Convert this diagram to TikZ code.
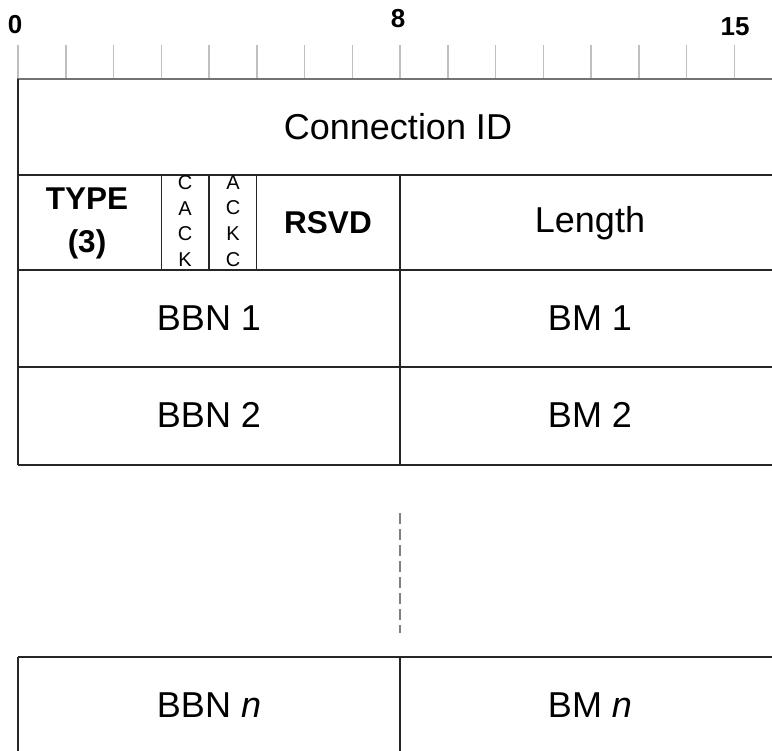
\documentclass[tikz,border=0pt]{standalone}
\usepackage{fontspec}
\setmainfont{Liberation Sans}

\begin{document}
\begin{tikzpicture}[x=1pt, y=-1pt,
    field/.style={font=\fontsize{36}{36}\selectfont},
    flagtext/.style={font=\bfseries\fontsize{31.5}{43}\selectfont, align=center},
    bitlabel/.style={font=\bfseries\fontsize{26}{26}\selectfont},
    narrow/.style={font=\fontsize{20}{25.7}\selectfont, align=center},
    cell/.style={black!85, line width=1.4},
    tick/.style={black!25, line width=1.5}]
    % Define bit width and left edge
    \def\w{47.75}
    \def\xo{18}

    \clip (0,0) rectangle (772,751);

    % Ruler
    \foreach \i in {0,...,16}
        \draw[tick] (\xo+\i*\w,45) -- (\xo+\i*\w,79);
    \draw[black!55, line width=1.5] (17,79) -- (790,79);
    \node[bitlabel] (bit0) at (15,25) {0};
    \node[bitlabel] (bit8) at (398,19) {8};
    \node[bitlabel] (bit15) at (735,27) {15};

    % Rows
    \draw[cell] (\xo,79) -- (\xo,465);
    \draw[cell] (\xo+16*\w,79) -- (\xo+16*\w,465);
    \foreach \y in {175,270,367,465}
        \draw[cell] (\xo,\y) -- (790,\y);
    \draw[cell] (\xo+8*\w,175) -- (\xo+8*\w,465);
    \foreach \i in {3,4,5}
        \draw[cell] (\xo+\i*\w,175) -- (\xo+\i*\w,270);

    % Last row
    \draw[cell] (\xo,657) -- (790,657);
    \draw[cell] (\xo,657) -- (\xo,760);
    \draw[cell] (\xo+8*\w,657) -- (\xo+8*\w,760);

    % Gap
    \draw[black!50, line width=1.5, dash pattern=on 11 off 5] (\xo+8*\w,513) -- (\xo+8*\w,633);

    % Fields
    \node[field] (connid) at (398,127) {Connection ID};
    \node[flagtext] (type) at (87,223) {TYPE\\(3)};
    \node[narrow] (cack) at (185,221) {C\\A\\C\\K};
    \node[narrow] (ackc) at (233,221) {A\\C\\K\\C};
    \node[flagtext] (rsvd) at (328,223) {RSVD};
    \node[field] (length) at (590,223) {Length};
    \node[field] (bbn1) at (209,318) {BBN 1};
    \node[field] (bm1) at (590,318) {BM 1};
    \node[field] (bbn2) at (209,415) {BBN 2};
    \node[field] (bm2) at (590,415) {BM 2};
    \node[field] (bbnn) at (209,705) {BBN \textit{n}};
    \node[field] (bmn) at (590,705) {BM \textit{n}};
\end{tikzpicture}
\end{document}
